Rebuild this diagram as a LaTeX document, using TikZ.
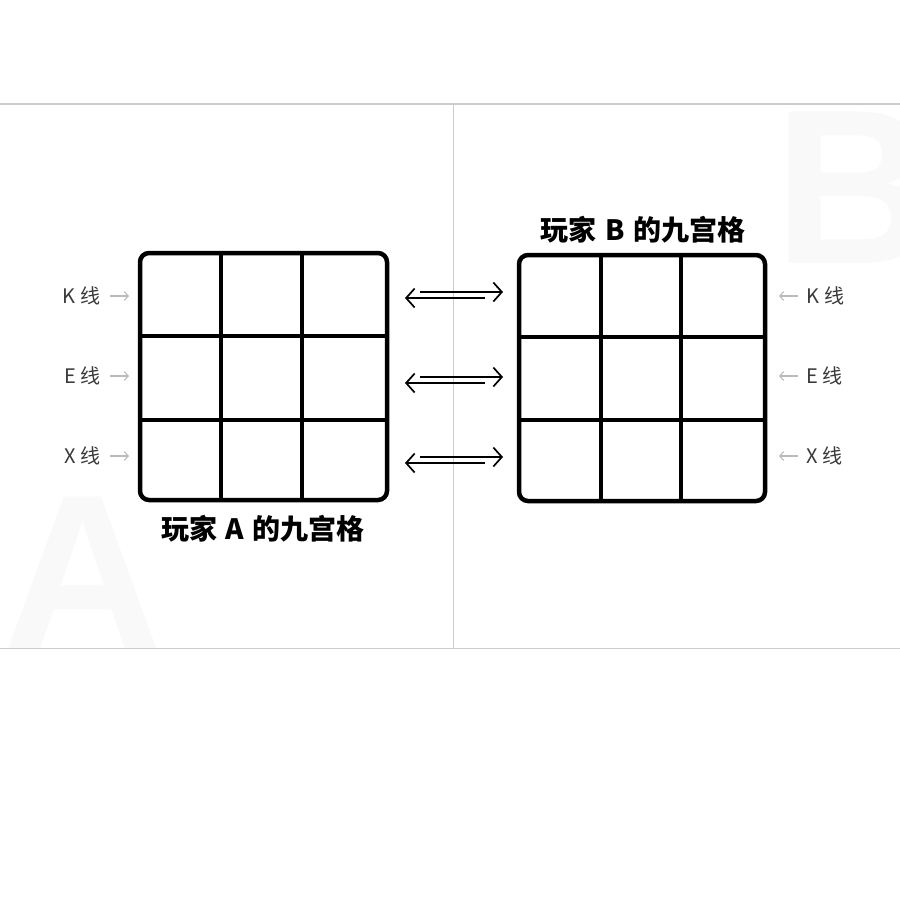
\documentclass[tikz,border=0pt]{standalone}
\usepackage{fontspec}
\setmainfont{Liberation Sans}
\newfontfamily\cjk{Noto Sans CJK SC}
\usetikzlibrary{arrows.meta}
\definecolor{frame}{HTML}{CCCCCC}
\definecolor{ghost}{HTML}{F9F9F9}
\definecolor{lbl}{HTML}{3A3A3A}
\definecolor{garrow}{HTML}{BBBBBB}
\begin{document}
\begin{tikzpicture}[x=1pt,y=-1pt,
  gridbox/.style={draw=black,line width=4.5pt,rounded corners=9pt},
  gridline/.style={draw=black,line width=3.6pt},
  title/.style={font=\cjk\bfseries\fontsize{28}{30}\selectfont,inner sep=0pt},
  linelabel/.style={font=\cjk\fontsize{20}{22}\selectfont,text=lbl,inner sep=0pt},
  grayarrow/.style={draw=garrow,line width=1.1pt,-{Straight Barb[length=4pt,width=9pt]}},
  swaparrow/.style={draw=black,line width=1.7pt,-{Straight Barb[length=8.5pt,width=19pt,line width=1.7pt]}},
  framerule/.style={draw=frame,line width=1.1pt}]
\useasboundingbox (0,0) rectangle (900,900);
\fill[white] (0,0) rectangle (900,900);
% ghost letters
\begin{scope}
\clip (0,104) rectangle (900,648);
\node[font=\bfseries\fontsize{220}{220}\selectfont,text=ghost,anchor=base west,inner sep=0pt] (ghostA) at (3,648) {A};
\node[font=\bfseries\fontsize{220}{220}\selectfont,text=ghost,anchor=base west,inner sep=0pt] (ghostB) at (774,263) {B};
\end{scope}
% frame
\draw[framerule] (0,104) -- (900,104);
\draw[framerule] (0,648.5) -- (900,648.5);
\draw[framerule] (453.5,104) -- (453.5,648);
% grid A
\coordinate (anw) at (140,253);
\coordinate (ase) at (387,500);
\draw[gridline] (221,253) -- (221,500);
\draw[gridline] (302,253) -- (302,500);
\draw[gridline] (140,336) -- (387,336);
\draw[gridline] (140,420) -- (387,420);
\path[gridbox] (anw) rectangle (ase);
% grid B
\coordinate (bnw) at (519,255);
\coordinate (bse) at (765,501);
\draw[gridline] (601,255) -- (601,501);
\draw[gridline] (681,255) -- (681,501);
\draw[gridline] (519,337) -- (765,337);
\draw[gridline] (519,420) -- (765,420);
\path[gridbox] (bnw) rectangle (bse);
% titles
\node[title] (titleA) at (263,529) {玩家\hspace{0.3em}A\hspace{0.3em}的九宫格};
\node[title] (titleB) at (643,230) {玩家\hspace{0.3em}B\hspace{0.3em}的九宫格};
% left labels
\node[linelabel,anchor=east] (kA) at (101,296) {K\hspace{0.25em}线};
\node[linelabel,anchor=east] (eA) at (101,376) {E\hspace{0.25em}线};
\node[linelabel,anchor=east] (xA) at (101,456) {X\hspace{0.25em}线};
\coordinate (kAin) at (129,296);
\coordinate (eAin) at (129,376);
\coordinate (xAin) at (129,456);
\draw[grayarrow] ([xshift=9pt]kA.east) -- (kAin);
\draw[grayarrow] ([xshift=9pt]eA.east) -- (eAin);
\draw[grayarrow] ([xshift=9pt]xA.east) -- (xAin);
% right labels
\node[linelabel,anchor=west] (kB) at (806,296) {K\hspace{0.25em}线};
\node[linelabel,anchor=west] (eB) at (806,376) {E\hspace{0.25em}线};
\node[linelabel,anchor=west] (xB) at (806,456) {X\hspace{0.25em}线};
\coordinate (kBin) at (779,296);
\coordinate (eBin) at (779,376);
\coordinate (xBin) at (779,456);
\draw[grayarrow] ([xshift=-8pt]kB.west) -- (kBin);
\draw[grayarrow] ([xshift=-8pt]eB.west) -- (eBin);
\draw[grayarrow] ([xshift=-8pt]xB.west) -- (xBin);
% swap arrows
\foreach \n/\y in {1/295,2/380,3/460}{
  \coordinate (s\n l) at (405,\y);
  \coordinate (s\n r) at (503,\y);
  \draw[swaparrow] ([xshift=15pt,yshift=3pt]s\n l) -- ([yshift=3pt]s\n r);
  \draw[swaparrow] ([xshift=-18pt,yshift=-3pt]s\n r) -- ([yshift=-3pt]s\n l);
}
\end{tikzpicture}
\end{document}
